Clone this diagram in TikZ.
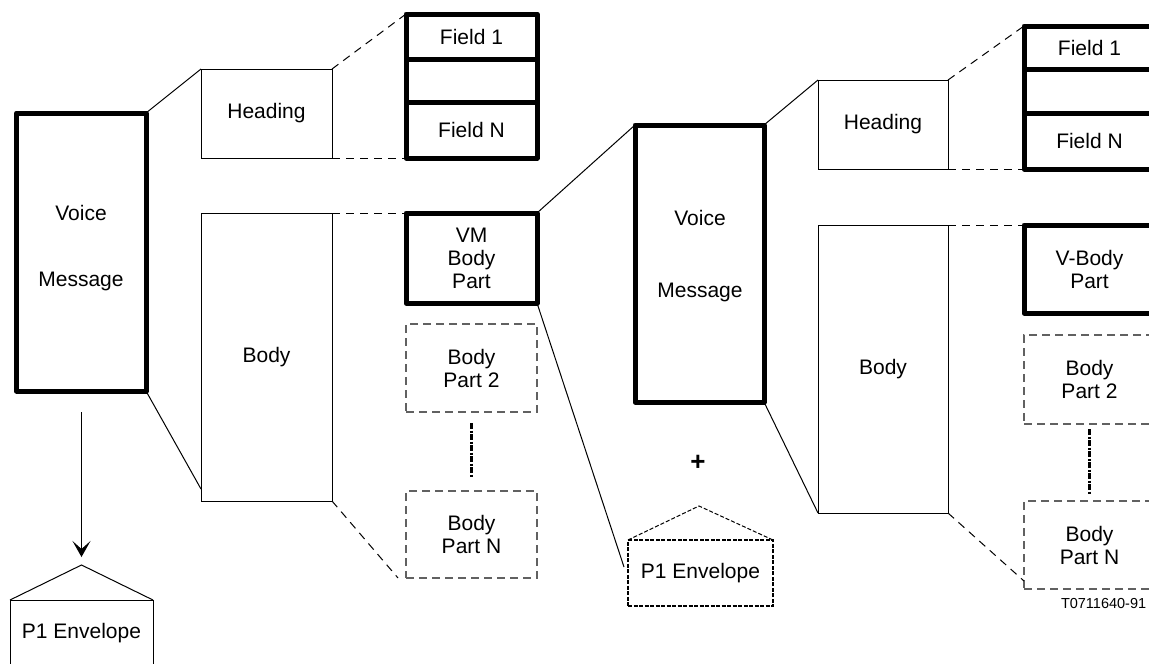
\documentclass[tikz,border=0pt]{standalone}
\usepackage{fontspec}
\setmainfont{Liberation Sans}
\usetikzlibrary{arrows.meta,calc}
\definecolor{dgray}{gray}{0.38}
\begin{document}
\begin{tikzpicture}[x=1pt,y=-1pt,
  every node/.style={inner sep=0pt, outer sep=0pt, font=\fontsize{21}{23}\selectfont, align=center},
  thinbox/.style={draw, line width=1pt},
  thickbox/.style={draw, line width=5pt, line join=round},
  dashbox/.style={draw=dgray, line width=1.3pt, dash pattern=on 8pt off 5pt},
  envbox/.style={draw, line width=1.7pt, dash pattern=on 4pt off 1.5pt},
  conn/.style={line width=1pt},
  dconn/.style={line width=1pt, dash pattern=on 8pt off 6pt},
  roofd/.style={line width=1pt, dash pattern=on 4pt off 2pt},
  dotconn/.style={line width=2.2pt, dash pattern=on 6pt off 1.5pt on 2pt off 1.5pt},
]
\useasboundingbox (0,0) rectangle (1149,664);
\clip (0,0) rectangle (1149,664);

% ---------- left structure ----------
\node[thickbox, minimum width=129.5pt, minimum height=278pt] (vmL) at (81.25,252) {};
\node (vmLa) at (81,213) {Voice};
\node (vmLb) at (81,281) {Message};

\node[thinbox, minimum width=131pt, minimum height=89pt] (headL) at (266.5,113.5) {Heading};
\node[thinbox, minimum width=131pt, minimum height=288pt] (bodyL) at (266.5,357) {Body};

\node[thickbox, minimum width=131pt, minimum height=45pt] (f1L) at (471.5,36.5) {Field 1};
\node[thickbox, minimum width=131pt, minimum height=43pt] (f2L) at (471.5,80.5) {};
\node[thickbox, minimum width=131pt, minimum height=56pt] (fNL) at (471.5,130) {Field N};

\node[thickbox, minimum width=131pt, minimum height=90pt] (vmbpL) at (471.5,258) {VM\\Body\\Part};
\node[dashbox, minimum width=131pt, minimum height=88pt] (bp2L) at (471.5,368) {Body\\Part 2};
\node[dashbox, minimum width=131pt, minimum height=87pt] (bpNL) at (471.5,534.5) {Body\\Part N};

\node[thinbox, minimum width=143pt, minimum height=67pt] (envL) at (81.5,633.5) {P1 Envelope};
\coordinate (roofL) at (81.5,565);
\draw[conn] (envL.north west) -- (roofL) -- (envL.north east);

% left connectors
\draw[conn] (vmL.north east) -- (headL.north west);
\draw[conn] (vmL.south east) -- ([yshift=12pt]bodyL.south west);
\draw[dconn] (headL.north east) -- (f1L.north west);
\draw[dconn] (headL.south east) -- (fNL.south west);
\draw[dconn] (bodyL.north east) -- (vmbpL.north west);
\draw[dconn] (bodyL.south east) -- ([xshift=-8pt]bpNL.south west);
\draw[dotconn, shorten <=11pt, shorten >=13pt] (bp2L.south) -- (bpNL.north);
\draw[conn, -{Stealth[length=16pt,width=18pt,inset=8pt]}, shorten <=21pt, shorten >=8pt] (vmL.south -| roofL) -- (roofL);

% ---------- right structure ----------
\node[thickbox, minimum width=129pt, minimum height=277pt] (vmR) at (699.5,263.5) {};
\node (vmRa) at (700,218) {Voice};
\node (vmRb) at (700,292) {Message};

\node[thinbox, minimum width=130pt, minimum height=89pt] (headR) at (883,124.5) {Heading};
\node[thinbox, minimum width=130pt, minimum height=288pt] (bodyR) at (883,369) {Body};

\node[thickbox, minimum width=131pt, minimum height=43pt] (f1R) at (1089.5,47.5) {Field 1};
\node[thickbox, minimum width=131pt, minimum height=44pt] (f2R) at (1089.5,91) {};
\node[thickbox, minimum width=131pt, minimum height=56pt] (fNR) at (1089.5,141) {Field N};

\node[thickbox, minimum width=131pt, minimum height=88pt] (vbpR) at (1089.5,269) {V-Body\\Part};
\node[dashbox, minimum width=131pt, minimum height=89pt] (bp2R) at (1089.5,379.5) {Body\\Part 2};
\node[dashbox, minimum width=131pt, minimum height=88pt] (bpNR) at (1089.5,545) {Body\\Part N};

\node[font=\fontsize{26}{26}\selectfont\bfseries] (plus) at (698,463) {+};

\node[envbox, minimum width=145pt, minimum height=66pt] (envR) at (700.5,573) {P1 Envelope};
\coordinate (roofR) at (699,506);
\draw[roofd] (envR.north west) -- (roofR) -- (envR.north east);

% right connectors
\draw[conn] (vmbpL.north east) -- (vmR.north west);
\draw[conn] (vmbpL.south east) -- ([xshift=-4pt,yshift=6pt]envR.west);
\draw[conn] (vmR.north east) -- (headR.north west);
\draw[conn] (vmR.south east) -- (bodyR.south west);
\draw[dconn] (headR.north east) -- (f1R.north west);
\draw[dconn] (headR.south east) -- (fNR.south west);
\draw[dconn] (bodyR.north east) -- (vbpR.north west);
\draw[dconn] (bodyR.south east) -- ([yshift=8pt]bpNR.south west);
\draw[dotconn, shorten <=5pt, shorten >=7pt] (bp2R.south) -- (bpNR.north);

\node[font=\fontsize{14.5}{14.5}\selectfont, anchor=west] (tag) at (1061,604) {T0711640-91};
\end{tikzpicture}
\end{document}
